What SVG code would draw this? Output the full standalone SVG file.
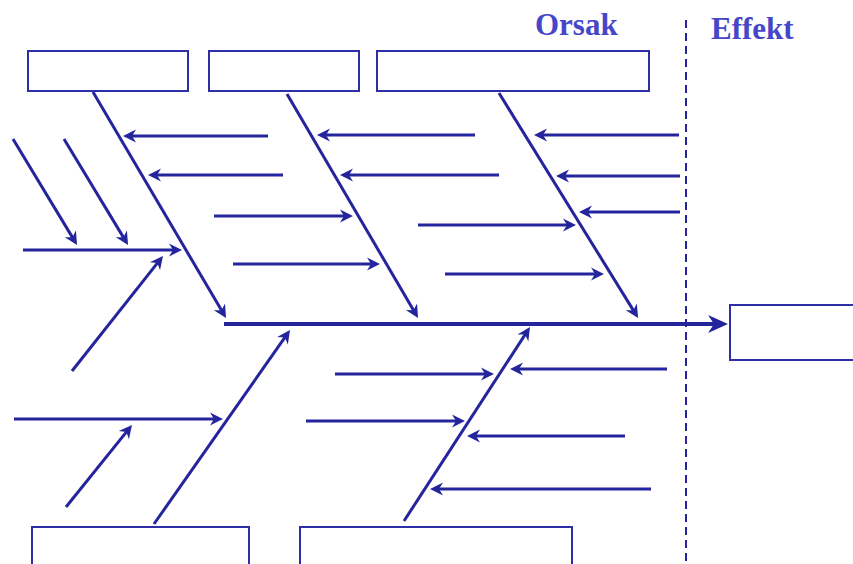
<svg xmlns="http://www.w3.org/2000/svg" width="853" height="564" viewBox="0 0 853 564">
<style>
.box{fill:#fff;stroke:#2e2ea6;stroke-width:2}
.ln{stroke:#24249c;stroke-width:3;fill:none;marker-end:url(#ah)}
.spine{stroke:#24249c;stroke-width:4;fill:none;marker-end:url(#ahb)}
.lbl{font-family:"Liberation Serif",serif;font-weight:bold;font-size:31px;fill:#4646c8}
</style>
<defs>
<marker id="ah" markerUnits="userSpaceOnUse" markerWidth="16" markerHeight="16" refX="9" refY="6.5" orient="auto" overflow="visible">
<path d="M0,0 L13,6.5 L0,13 L4,6.5 z" fill="#24249c"/>
</marker>
<marker id="ahb" markerUnits="userSpaceOnUse" markerWidth="22" markerHeight="20" refX="14" refY="9" orient="auto" overflow="visible">
<path d="M0,0 L20,9 L0,18 L6,9 z" fill="#24249c"/>
</marker>
</defs>
<rect width="853" height="564" fill="#fff"/>
<g id="labels">
<text class="lbl" x="535" y="35">Orsak</text>
<text class="lbl" x="711" y="39">Effekt</text>
</g>
<g id="divider">
<line x1="686" y1="20" x2="686" y2="564" stroke="#24249c" stroke-width="2" stroke-dasharray="8 5"/>
</g>
<g id="cause1"><rect class="box" x="28" y="51" width="160" height="40"/></g>
<g id="cause2"><rect class="box" x="209" y="51" width="150" height="40"/></g>
<g id="cause3"><rect class="box" x="377" y="51" width="272" height="40"/></g>
<g id="cause4"><rect class="box" x="32" y="527" width="217" height="45"/></g>
<g id="cause5"><rect class="box" x="300" y="527" width="272" height="45"/></g>
<g id="effect"><rect class="box" x="730" y="305" width="130" height="55"/></g>
<g id="connectors">
<line class="spine" x1="224" y1="324" x2="722" y2="324"/>
<line class="ln" x1="93" y1="92" x2="224" y2="314.6"/>
<line class="ln" x1="287" y1="94" x2="416" y2="314.5"/>
<line class="ln" x1="499" y1="93" x2="636" y2="314.6"/>
<line class="ln" x1="154" y1="524" x2="287.7" y2="333.3"/>
<line class="ln" x1="404" y1="521" x2="527.8" y2="330.4"/>
<line class="ln" x1="268" y1="136" x2="127" y2="136"/>
<line class="ln" x1="283" y1="175" x2="152" y2="175"/>
<line class="ln" x1="214" y1="216" x2="349" y2="216"/>
<line class="ln" x1="233" y1="264" x2="376" y2="264"/>
<line class="ln" x1="475" y1="135" x2="321" y2="135"/>
<line class="ln" x1="499" y1="175" x2="344" y2="175"/>
<line class="ln" x1="418" y1="225" x2="572" y2="225"/>
<line class="ln" x1="445" y1="274" x2="600" y2="274"/>
<line class="ln" x1="679" y1="135" x2="538" y2="135"/>
<line class="ln" x1="680" y1="176" x2="560" y2="176"/>
<line class="ln" x1="680" y1="212" x2="583" y2="212"/>
<line class="ln" x1="13" y1="139" x2="75" y2="241.6"/>
<line class="ln" x1="64" y1="139" x2="126" y2="241.6"/>
<line class="ln" x1="23" y1="250" x2="178" y2="250"/>
<line class="ln" x1="72" y1="371" x2="160.5" y2="259.1"/>
<line class="ln" x1="14" y1="419" x2="219" y2="419"/>
<line class="ln" x1="66" y1="507" x2="129.5" y2="428.1"/>
<line class="ln" x1="335" y1="374" x2="490" y2="374"/>
<line class="ln" x1="306" y1="421" x2="461" y2="421"/>
<line class="ln" x1="667" y1="369" x2="514" y2="369"/>
<line class="ln" x1="625" y1="436" x2="471" y2="436"/>
<line class="ln" x1="651" y1="489" x2="434" y2="489"/>
</g>
</svg>
